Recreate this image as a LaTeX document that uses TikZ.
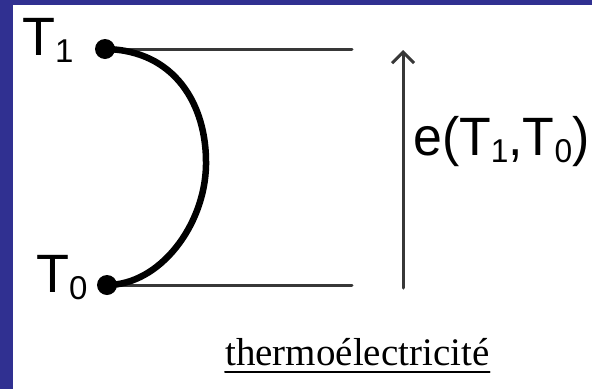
\documentclass[tikz,border=0pt]{standalone}
\usepackage{fontspec}
\setmainfont{Liberation Sans}
\newfontfamily\seriflab{Liberation Serif}
\usetikzlibrary{arrows.meta}
\definecolor{frameblue}{RGB}{48,48,145}
\newcommand\lowidx[1]{\raisebox{-7pt}{\fontsize{33}{33}\selectfont #1}}

\begin{document}
\begin{tikzpicture}[x=1pt,y=-1pt,
  line cap=round,line join=round,
  L/.style={line width=3pt,draw=black!78},
  W/.style={line width=6.5pt},
  dotn/.style={circle,fill=black,minimum size=20pt,inner sep=0pt},
  lab/.style={inner sep=0pt,anchor=base west,font=\fontsize{54}{54}\selectfont}]

  \useasboundingbox (0,0) rectangle (592,389);

  %% ---- frame (blue strips at the left and top)
  \fill[frameblue] (0,0) rectangle (13,389);
  \fill[frameblue] (0,0) rectangle (592,5);

  %% ---- junctions and free ends
  \node[dotn] (t1) at (105,49) {};
  \node[dotn] (t0) at (107,285) {};
  \coordinate (e1) at (352,49);
  \coordinate (e0) at (352,285);
  \coordinate (ab) at (403,288);
  \coordinate (at) at (403,50);

  %% ---- wires
  \draw[L] (t1) -- (e1);
  \draw[L] (t0) -- (e0);
  % the thermocouple wire between the two junctions
  \draw[W] (t1.center) .. controls (175,50) and (207,105) .. (206,165)
                       .. controls (205,225) and (160,285) .. (t0.center);

  %% ---- e.m.f. arrow
  \draw[L,-{Straight Barb[length=11pt,width=22pt]}] (ab) -- (at);

  %% ---- labels
  \node[lab] (t1lab) at (22,55) {T\lowidx{1}};
  \node[lab] (t0lab) at (36,292) {T\lowidx{0}};
  \node[lab] (emf) at (413,155) {\scalebox{0.96}[1]{e(T\lowidx{1},T\lowidx{0})}};
  \node[inner sep=0pt,anchor=base west,font=\seriflab\fontsize{39}{39}\selectfont]
    (thermo) at (225,365) {thermoélectricité};
  \draw[line width=2pt] ([yshift=-7pt]thermo.base west) -- ([yshift=-7pt]thermo.base east);
\end{tikzpicture}
\end{document}
